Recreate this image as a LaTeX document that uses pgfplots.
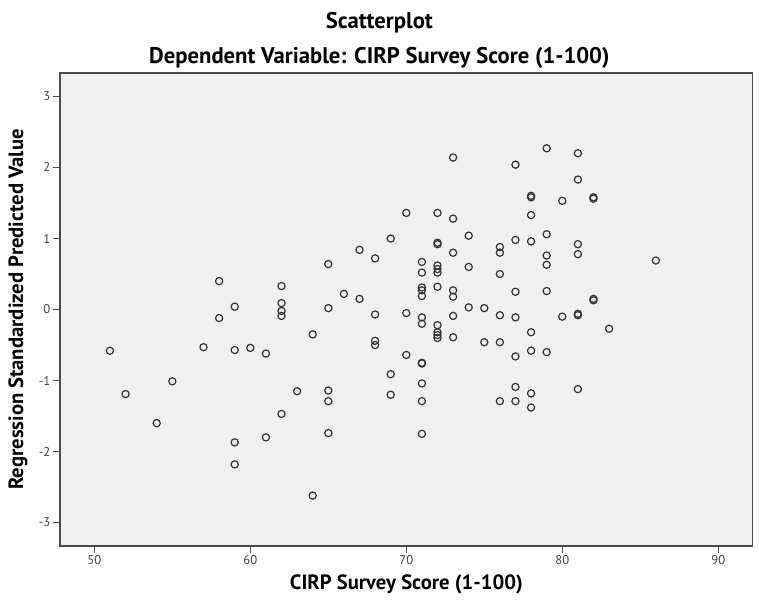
\documentclass[border=0pt]{standalone}
\usepackage{fontspec}
\setmainfont{PT Sans}
\usepackage{pgfplots}
\pgfplotsset{compat=1.18}
\usetikzlibrary{calc}
\definecolor{bg}{HTML}{F0F0F0}
\definecolor{frame}{HTML}{4A4A4A}
\definecolor{mk}{HTML}{333333}
\pgfplotstableread{
x y
51 -0.58
52 -1.19
54 -1.60
55 -1.01
57 -0.53
58 0.40
58 -0.12
59 0.04
59 -0.57
59 -1.87
59 -2.18
60 -0.54
61 -0.62
61 -1.80
62 0.33
62 0.09
62 -0.02
62 -0.09
62 -1.47
63 -1.15
64 -0.35
64 -2.62
65 0.64
65 0.02
65 -1.14
65 -1.29
65 -1.74
66 0.22
67 0.84
67 0.15
68 0.72
68 -0.07
68 -0.44
68 -0.50
69 1.00
69 -0.91
69 -1.20
70 1.36
70 -0.05
70 -0.64
71 0.67
71 0.52
71 0.31
71 0.27
71 0.19
71 -0.11
71 -0.20
71 -0.75
71 -0.76
71 -1.04
71 -1.29
71 -1.75
72 1.36
72 0.94
72 0.92
72 0.62
72 0.57
72 0.52
72 0.32
72 -0.22
72 -0.32
72 -0.36
72 -0.40
73 2.14
73 1.28
73 0.80
73 0.27
73 0.18
73 -0.09
73 -0.39
74 1.04
74 0.60
74 0.03
75 0.02
75 -0.46
76 0.88
76 0.80
76 0.50
76 -0.08
76 -0.46
76 -1.29
77 2.04
77 0.98
77 0.25
77 -0.11
77 -0.66
77 -1.09
77 -1.29
78 1.60
78 1.58
78 1.33
78 0.96
78 -0.32
78 -0.58
78 -1.18
78 -1.38
79 2.27
79 1.06
79 0.76
79 0.63
79 0.26
79 -0.60
80 1.53
80 -0.10
81 2.20
81 1.83
81 0.92
81 0.78
81 -0.06
81 -0.08
81 -1.12
82 1.58
82 1.56
82 0.15
82 0.13
83 -0.27
86 0.69
}\scores
\begin{document}
\begin{tikzpicture}
\begin{axis}[
  scale only axis, width=519.5pt, height=354.75pt,
  xmin=47.8, xmax=92.21, ymin=-3.33, ymax=3.33,
  xtick={50,60,70,80,90}, ytick={-3,-2,-1,0,1,2,3},
  tick align=outside, tick pos=left,
  major tick length=5.5pt,
  axis background/.style={fill=bg},
  axis line style={draw=frame, line width=1pt},
  every tick/.style={draw=frame, line width=0.8pt},
  tick label style={font=\fontsize{9.5}{11}\selectfont, text=black!75},
  xticklabel style={inner sep=1.5pt},
  yticklabel style={inner sep=1.5pt},
  /pgf/number format/assume math mode=true,
]
\addplot[only marks, mark=o, mark size=2.7pt, draw=mk, mark options={line width=0.9pt, draw=mk}] table[x=x,y=y] {\scores};
\end{axis}
\node[font=\bfseries\fontsize{15.5}{18}\selectfont, anchor=center] at ($(current axis.south)+(0,-29pt)$) {CIRP Survey Score (1-100)};
\node[font=\bfseries\fontsize{15.5}{18}\selectfont, anchor=center, rotate=90] at ($(current axis.west)+(-31.5pt,0)$) {Regression Standardized Predicted Value};
\node[font=\bfseries\fontsize{17}{19}\selectfont, anchor=center] at ($($(current axis.north west)!0.461!(current axis.north east)$)+(0,38pt)$) {Scatterplot};
\node[font=\bfseries\fontsize{17}{19}\selectfont, anchor=center] at ($($(current axis.north west)!0.461!(current axis.north east)$)+(0,11.5pt)$) {Dependent Variable: CIRP Survey Score (1-100)};
\pgfresetboundingbox
\path (current axis.south west) ++(-45pt,-51pt) rectangle ([xshift=4.7pt,yshift=54.75pt]current axis.north east);
\end{tikzpicture}
\end{document}
